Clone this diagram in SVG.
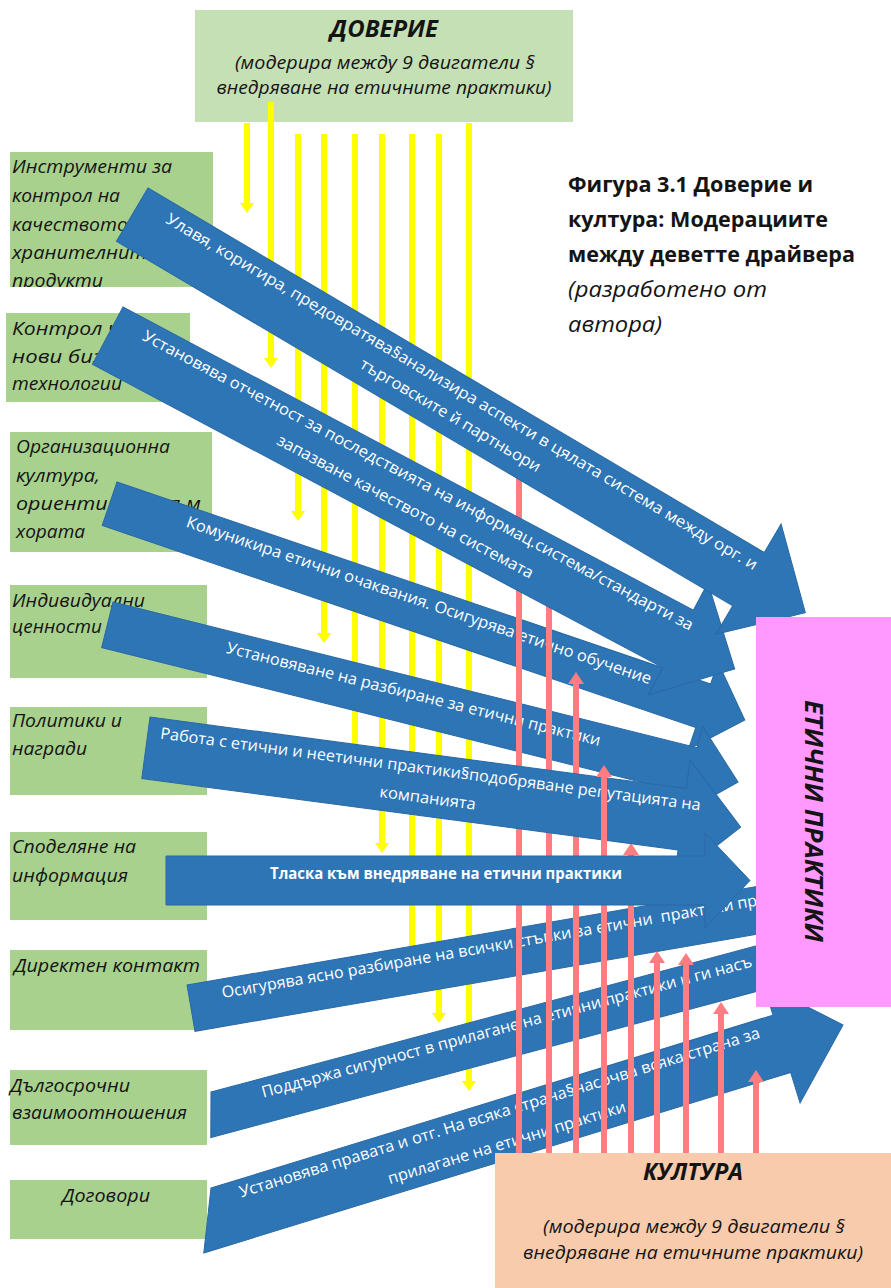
<svg xmlns="http://www.w3.org/2000/svg" width="891" height="1288" viewBox="0 0 891 1288">
<style>
.bg{fill:#ffffff}
.box{fill:#a9d18e}
.lbl{font-family:"Open Sans","Noto Sans",sans-serif;font-style:italic;font-size:19px;fill:#141414}
.ttl{font-family:"Open Sans","Noto Sans",sans-serif;font-style:italic;font-weight:bold;fill:#141414;text-anchor:middle}
.sub{font-family:"Open Sans","Noto Sans",sans-serif;font-style:italic;font-size:19px;fill:#141414;text-anchor:middle}
.cap{font-family:"Open Sans","Noto Sans",sans-serif;font-size:21px;fill:#141414}
.arr{fill:#2e75b6;stroke:#2a69a4;stroke-width:1}
.at{font-family:"Open Sans","Noto Sans",sans-serif;font-size:16px;fill:#ffffff;text-anchor:middle}
.as{font-family:"Open Sans","Noto Sans",sans-serif;font-size:16px;fill:#ffffff}
.y{stroke:#ffff00;stroke-width:6;fill:none}
.p{stroke:#ff7c80;stroke-width:6;fill:none}
</style>
<defs>
<marker id="yh" markerUnits="userSpaceOnUse" markerWidth="12" markerHeight="14" refX="4" refY="7" orient="auto">
<path d="M0,0 L10,7 L0,14 z" fill="#ffff00"/>
</marker>
<marker id="ph" markerUnits="userSpaceOnUse" markerWidth="14" markerHeight="16" refX="6" refY="8" orient="auto">
<path d="M0,0 L12,8 L0,16 z" fill="#ff7c80"/>
</marker>
<clipPath id="c1"><rect x="10" y="152" width="203" height="135"/></clipPath>
</defs>
<rect class="bg" x="0" y="0" width="891" height="1288"/>

<g id="trust">
<rect x="195" y="10" width="378" height="112" fill="#c5e0b4"/>
<text class="ttl" x="384" y="37" font-size="24" textLength="108" lengthAdjust="spacingAndGlyphs">ДОВЕРИЕ</text>
<text class="sub" x="385" y="69" textLength="300" lengthAdjust="spacingAndGlyphs">(модерира между 9 двигатели §</text>
<text class="sub" x="384" y="94" textLength="335" lengthAdjust="spacingAndGlyphs">внедряване на етичните практики)</text>
</g>

<g id="caption">
<text class="cap" x="568" y="192" font-weight="bold" textLength="245" lengthAdjust="spacingAndGlyphs">Фигура 3.1 Доверие и</text>
<text class="cap" x="568" y="227" font-weight="bold" textLength="260" lengthAdjust="spacingAndGlyphs">култура: Модерациите</text>
<text class="cap" x="568" y="262" font-weight="bold" textLength="287" lengthAdjust="spacingAndGlyphs">между деветте драйвера</text>
<text class="cap" x="568" y="297" font-style="italic" textLength="199" lengthAdjust="spacingAndGlyphs">(разработено от</text>
<text class="cap" x="568" y="332" font-style="italic" textLength="94" lengthAdjust="spacingAndGlyphs">автора)</text>
</g>

<g id="driver1">
<rect class="box" x="10" y="152" width="203" height="135"/>
<g clip-path="url(#c1)">
<text class="lbl" x="12" y="173" textLength="160" lengthAdjust="spacingAndGlyphs">Инструменти за</text>
<text class="lbl" x="12" y="202" textLength="108" lengthAdjust="spacingAndGlyphs">контрол на</text>
<text class="lbl" x="12" y="231" textLength="116" lengthAdjust="spacingAndGlyphs">качеството</text>
<text class="lbl" x="12" y="259" textLength="145" lengthAdjust="spacingAndGlyphs">хранителните</text>
<text class="lbl" x="12" y="287" textLength="91" lengthAdjust="spacingAndGlyphs">продукти</text>
</g>
</g>
<g id="driver2">
<rect class="box" x="6" y="313" width="184" height="89"/>
<text class="lbl" x="12" y="335" textLength="140" lengthAdjust="spacingAndGlyphs">Контрол чрез</text>
<text class="lbl" x="12" y="363" textLength="125" lengthAdjust="spacingAndGlyphs">нови бизнес</text>
<text class="lbl" x="12" y="390" textLength="110" lengthAdjust="spacingAndGlyphs">технологии</text>
</g>
<g id="driver3">
<rect class="box" x="10" y="432" width="202" height="120"/>
<text class="lbl" x="16" y="453" textLength="154" lengthAdjust="spacingAndGlyphs">Организационна</text>
<text class="lbl" x="16" y="482" textLength="84" lengthAdjust="spacingAndGlyphs">култура,</text>
<text class="lbl" x="16" y="510" textLength="185" lengthAdjust="spacingAndGlyphs">ориентирана към</text>
<text class="lbl" x="16" y="538" textLength="69" lengthAdjust="spacingAndGlyphs">хората</text>
</g>
<g id="driver4">
<rect class="box" x="10" y="585" width="197" height="93"/>
<text class="lbl" x="12" y="607" textLength="133" lengthAdjust="spacingAndGlyphs">Индивидуални</text>
<text class="lbl" x="12" y="633" textLength="90" lengthAdjust="spacingAndGlyphs">ценности</text>
</g>
<g id="driver5">
<rect class="box" x="10" y="707" width="197" height="88"/>
<text class="lbl" x="12" y="727" textLength="110" lengthAdjust="spacingAndGlyphs">Политики и</text>
<text class="lbl" x="12" y="755" textLength="75" lengthAdjust="spacingAndGlyphs">награди</text>
</g>
<g id="driver6">
<rect class="box" x="10" y="832" width="197" height="88"/>
<text class="lbl" x="12" y="853" textLength="124" lengthAdjust="spacingAndGlyphs">Споделяне на</text>
<text class="lbl" x="12" y="882" textLength="116" lengthAdjust="spacingAndGlyphs">информация</text>
</g>
<g id="driver7">
<rect class="box" x="10" y="950" width="197" height="80"/>
<text class="lbl" x="14" y="972" textLength="186" lengthAdjust="spacingAndGlyphs">Директен контакт</text>
</g>
<g id="driver8">
<rect class="box" x="10" y="1070" width="197" height="75"/>
<text class="lbl" x="10" y="1092" textLength="120" lengthAdjust="spacingAndGlyphs">Дългосрочни</text>
<text class="lbl" x="12" y="1119" textLength="175" lengthAdjust="spacingAndGlyphs">взаимоотношения</text>
</g>
<g id="driver9">
<rect class="box" x="10" y="1180" width="197" height="59"/>
<text class="lbl" x="106" y="1202" text-anchor="middle" textLength="88" lengthAdjust="spacingAndGlyphs">Договори</text>
</g>

<g id="connectors">
<g id="trust-lines">
<line class="y" x1="247" y1="123" x2="247" y2="207" marker-end="url(#yh)"/>
<line class="y" x1="271" y1="102" x2="271" y2="362" marker-end="url(#yh)"/>
<line class="y" x1="298" y1="134" x2="298" y2="515" marker-end="url(#yh)"/>
<line class="y" x1="324" y1="134" x2="324" y2="637" marker-end="url(#yh)"/>
<line class="y" x1="355" y1="134" x2="355" y2="755" marker-end="url(#yh)"/>
<line class="y" x1="382" y1="134" x2="382" y2="847" marker-end="url(#yh)"/>
<line class="y" x1="412" y1="134" x2="412" y2="965" marker-end="url(#yh)"/>
<line class="y" x1="439" y1="134" x2="439" y2="1017" marker-end="url(#yh)"/>
<line class="y" x1="469" y1="123" x2="469" y2="1085" marker-end="url(#yh)"/>
</g>
<g id="flow-lower">
<g transform="translate(117,482) rotate(18.8)">
<polygon class="arr" points="0,0 627,0 627,-23 671,23 627,69 627,46 0,46"/>
<text class="at" x="324" y="20" textLength="490" lengthAdjust="spacingAndGlyphs">Комуникира етични очаквания. Осигурява етично обучение</text>
</g>
<g transform="translate(113,602) rotate(14)">
<polygon class="arr" points="0,0 602,0 602,-22 650,23.5 602,69 602,47 0,47"/>
<text class="at" x="314" y="22" textLength="385" lengthAdjust="spacingAndGlyphs">Установяване на разбиране за етични практики</text>
</g>
<g transform="translate(187,985) rotate(-9.8)">
<polygon class="arr" points="0,0 590,0 590,-25 645,23.5 590,72 590,47 0,47"/>
<text class="as" x="33" y="19" textLength="543" lengthAdjust="spacingAndGlyphs" style="white-space:pre">Осигурява ясно разбиране на всички стъпки за етични  практики пр</text>
</g>
<g transform="translate(211,1092) rotate(-15)">
<polygon class="arr" points="0,0 575,0 575,-22 625,22 575,66 575,44 -12,44"/>
<text class="as" x="49" y="19" textLength="507" lengthAdjust="spacingAndGlyphs">Поддържа сигурност в прилагане на етични практики и ги насъ</text>
</g>
<g transform="translate(211,1188) rotate(-17.1)">
<polygon class="arr" points="0,0 588,0 588,-32 652,30 588,92 588,60 -26,60"/>
<text class="as" x="26" y="18" textLength="544" lengthAdjust="spacingAndGlyphs">Установява правата и отг. На всяка страна§насочва всяка страна за</text>
<text class="as" x="172" y="49" textLength="248" lengthAdjust="spacingAndGlyphs">прилагане на етични практики</text>
</g>
</g>
<g id="culture-lines">
<line class="p" x1="519" y1="1153" x2="519" y2="466" marker-end="url(#ph)"/>
<line class="p" x1="549" y1="1153" x2="549" y2="596" marker-end="url(#ph)"/>
<line class="p" x1="576" y1="1153" x2="576" y2="678" marker-end="url(#ph)"/>
<line class="p" x1="631" y1="1153" x2="631" y2="849" marker-end="url(#ph)"/>
<line class="p" x1="657" y1="1153" x2="657" y2="957" marker-end="url(#ph)"/>
<line class="p" x1="686" y1="1153" x2="686" y2="959" marker-end="url(#ph)"/>
<line class="p" x1="721" y1="1153" x2="721" y2="1008" marker-end="url(#ph)"/>
<line class="p" x1="756" y1="1153" x2="756" y2="1076" marker-end="url(#ph)"/>
</g>
<g id="flow-mid">
<g transform="translate(150,717) rotate(7.6)">
<polygon class="arr" points="0,0 541,0 541,-29 600,31 541,91 541,62 0,62"/>
<text class="at" x="285" y="20" textLength="545" lengthAdjust="spacingAndGlyphs">Работа с етични и неетични практики§подобряване репутацията на</text>
<text class="at" x="286" y="49" textLength="97" lengthAdjust="spacingAndGlyphs">компанията</text>
</g>
<line class="p" x1="604" y1="1153" x2="604" y2="771" marker-end="url(#ph)"/>
<g>
<polygon class="arr" points="166,856 705,856 705,833 750,880.5 705,928 705,905 166,905"/>
<text class="at" x="446" y="879" font-weight="bold" textLength="352" lengthAdjust="spacingAndGlyphs">Тласка към внедряване на етични практики</text>
</g>
</g>
<g id="flow-upper">
<g transform="translate(123,307) rotate(28)">
<polygon class="arr" points="0,0 646,0 646,-31 710,32.5 646,96 646,65 0,65"/>
<text class="at" x="342" y="20" textLength="621" lengthAdjust="spacingAndGlyphs">Установява отчетност за последствията на информац.система/стандарти за</text>
<text class="at" x="343" y="49" textLength="288" lengthAdjust="spacingAndGlyphs">запазване качеството на системата</text>
</g>
<g transform="translate(148,188) rotate(30.6)">
<polygon class="arr" points="0,0 716,0 716,-33 782,31 716,95 716,62 0,62"/>
<text class="at" x="374" y="21" textLength="684" lengthAdjust="spacingAndGlyphs">Улавя, коригира, предовратява§анализира аспекти в цялата система между орг. и</text>
<text class="at" x="376" y="47" textLength="207" lengthAdjust="spacingAndGlyphs">търговските й партньори</text>
</g>
</g>
</g>

<g id="ethics">
<rect x="756" y="617" width="135" height="390" fill="#ff99ff"/>
<text class="ttl" transform="translate(805,821) rotate(90)" x="0" y="0" font-size="25" textLength="242" lengthAdjust="spacingAndGlyphs">ЕТИЧНИ ПРАКТИКИ</text>
</g>

<g id="culture">
<rect x="495" y="1153" width="396" height="135" fill="#f8cbad"/>
<text class="ttl" x="693" y="1180" font-size="24" textLength="100" lengthAdjust="spacingAndGlyphs">КУЛТУРА</text>
<text class="sub" x="694" y="1233" textLength="302" lengthAdjust="spacingAndGlyphs">(модерира между 9 двигатели §</text>
<text class="sub" x="693" y="1259" textLength="340" lengthAdjust="spacingAndGlyphs">внедряване на етичните практики)</text>
</g>
</svg>
